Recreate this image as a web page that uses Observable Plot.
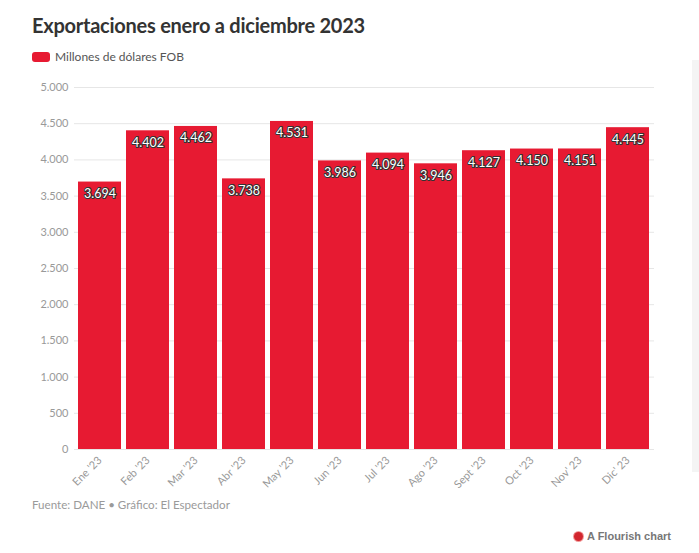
<!DOCTYPE html>
<html>
<head>
<meta charset="utf-8">
<script src="https://cdn.jsdelivr.net/npm/d3@7"></script>
<script src="https://cdn.jsdelivr.net/npm/@observablehq/plot@0.6"></script>
<style>
  html, body { margin: 0; padding: 0; background: #fff; }
  body { width: 699px; height: 553px; position: relative; overflow: hidden; font-family: "Source Sans Pro", Lato, "Noto Sans", sans-serif; }
  #title { position: absolute; left: 32px; top: 13px; font-size: 20px; font-weight: 700; color: #333; letter-spacing: -0.25px; }
  #legend { position: absolute; left: 32px; top: 49px; font-size: 12px; color: #555; display: flex; align-items: center; }
  #legend .sw { width: 18px; height: 10px; border-radius: 3px; background: #e71a32; margin-right: 5px; }
  #chart { position: absolute; left: 0; top: 75px; }
  #caption { position: absolute; left: 32px; top: 498px; font-size: 11.6px; color: #9a9a9a; }
  #flourish { position: absolute; right: 28px; top: 530px; font-size: 11px; font-weight: 700; color: #777; font-family: "Liberation Sans", Arial, sans-serif; display: flex; align-items: center; }
  #flourish .star { width: 9px; height: 9px; border-radius: 50%; background: #d2262e; margin-right: 4px; box-shadow: 0 0 0 1px #f19a9a; }
  #strip { position: absolute; left: 692px; top: 60px; width: 7px; height: 412px; background: #f4f4f4; }
</style>
</head>
<body>
<div id="title">Exportaciones enero a diciembre 2023</div>
<div id="legend"><span class="sw"></span>Millones de dólares FOB</div>
<div id="strip"></div>
<div id="chart"></div>
<div id="caption">Fuente: DANE • Gráfico: El Espectador</div>
<div id="flourish"><span class="star"></span>A Flourish chart</div>
<script>
const months = ["Ene '23", "Feb '23", "Mar '23", "Abr '23", "May '23", "Jun '23", "Jul '23", "Ago '23", "Sept '23", "Oct '23", "Nov' 23", "Dic' 23"];
const values = [3694, 4402, 4462, 3738, 4531, 3986, 4094, 3946, 4127, 4150, 4151, 4445];
const yTicks = [0, 500, 1000, 1500, 2000, 2500, 3000, 3500, 4000, 4500, 5000];

const data = months.map((m, i) => ({month: m, value: values[i]}));
const fmt = d => d3.format(",")(d).replace(/,/g, ".");

const chart = Plot.plot({
  width: 699,
  height: 424,
  marginLeft: 74,
  marginRight: 45,
  marginTop: 12,
  marginBottom: 50,
  style: {fontFamily: "'Source Sans Pro', Lato, 'Noto Sans', sans-serif", fontSize: "11px", color: "#999", background: "transparent"},
  x: {domain: months, paddingInner: 0.1, paddingOuter: 0.05, label: null, tickSize: 0, tickRotate: -45},
  y: {domain: [0, 5000], ticks: yTicks, label: null, tickFormat: fmt, tickSize: 0},
  marks: [
    Plot.gridY(yTicks, {stroke: "#e6e6e6", strokeOpacity: 1}),
    Plot.axisY(yTicks, {tickSize: 0, tickPadding: 6, tickFormat: fmt, fill: "#999", fontSize: 11}),
    Plot.axisX({tickSize: 0, tickRotate: -45, tickPadding: 9, fill: "#999", fontSize: 11}),
    Plot.barY(data, {x: "month", y: "value", fill: "#e71a32"}),
    Plot.text(data, {x: "month", y: "value", text: d => fmt(d.value), dy: 12, fill: "white", stroke: "#333", strokeWidth: 2.2, fontSize: 12.5, paintOrder: "stroke"})
  ]
});
document.getElementById("chart").appendChild(chart);
</script>
</body>
</html>
